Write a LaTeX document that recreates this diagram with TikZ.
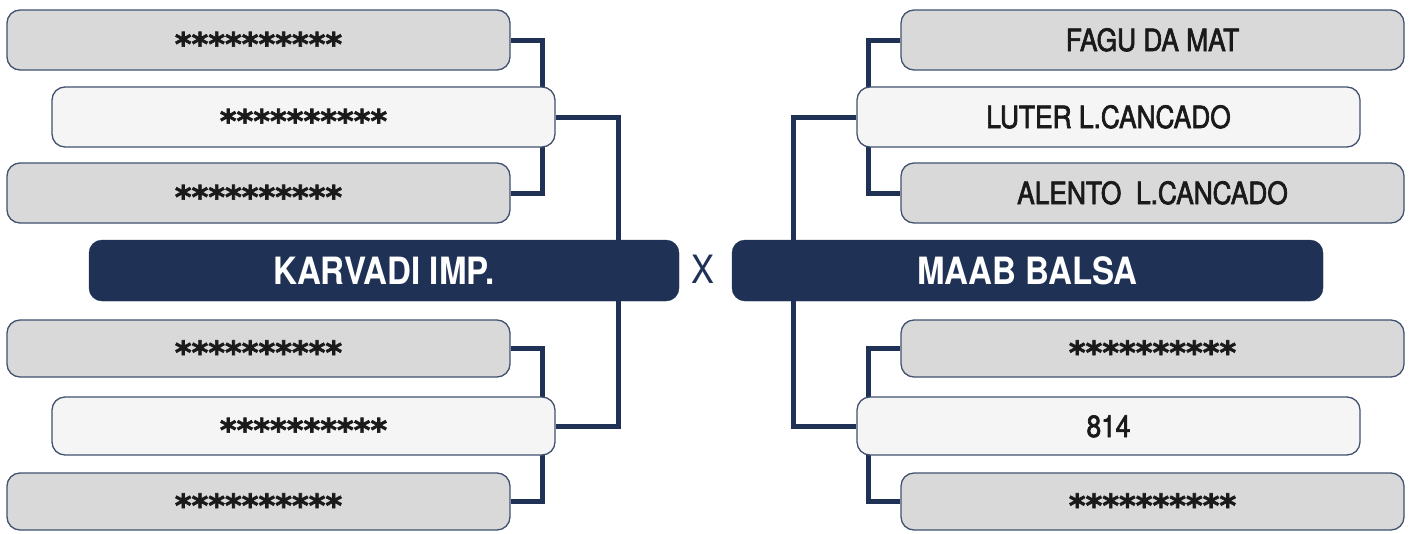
\documentclass[tikz,border=0pt]{standalone}
\usepackage{fontspec}
\setmainfont{TeX Gyre Heros}[FakeStretch=0.88]
\newfontfamily\playerfont{TeX Gyre Heros}[FakeStretch=0.86, FakeBold=2.2]
\newfontfamily\starfont{DejaVu Sans}[FakeBold=2]
\usepackage{xcolor}
\usepackage{tikz}
\usetikzlibrary{backgrounds}

\definecolor{navy}{HTML}{1F3256}
\definecolor{boxgray}{HTML}{D9D9D9}
\definecolor{boxlight}{HTML}{F5F5F5}
\definecolor{txtdark}{HTML}{1A1A1A}
\newcommand{\hiddenname}{\raisebox{-4.5pt}{\starfont\bfseries\fontsize{32}{36}\selectfont **********}}

\begin{document}
\begin{tikzpicture}[x=1pt, y=-1pt,
  playerbox/.style={draw=navy!85, line width=1.3pt, rounded corners=13pt,
                    minimum width=503pt, minimum height=60pt, inner sep=0pt,
                    text height=22pt, text depth=0pt, text=txtdark,
                    font=\playerfont\fontsize{30.6}{36}\selectfont},
  outerbox/.style={playerbox, fill=boxgray},
  innerbox/.style={playerbox, fill=boxlight},
  teambox/.style={draw=navy, fill=navy, rounded corners=13pt,
                  minimum width=590pt, minimum height=61pt, inner sep=0pt,
                  text height=27pt, text depth=0pt, text=white,
                  font=\bfseries\fontsize{37.6}{44}\selectfont},
  link/.style={draw=navy, line width=5pt}
]
\useasboundingbox (0,0) rectangle (1412,533);
% left side
\node[outerbox] (l1) at (258.5,  40) {\hiddenname};
\node[innerbox] (l2) at (303.5, 117) {\hiddenname};
\node[outerbox] (l3) at (258.5, 193) {\hiddenname};
\node[teambox]  (karvadi) at (384, 270.5) {KARVADI IMP.};
\node[outerbox, minimum height=57pt] (l4) at (258.5, 348.5) {\hiddenname};
\node[innerbox, minimum height=58pt] (l5) at (303.5, 426)   {\hiddenname};
\node[outerbox, minimum height=57pt] (l6) at (258.5, 501.5) {\hiddenname};
% right side
\node[outerbox] (r1) at (1152.5,  40) {FAGU DA MAT};
\node[innerbox] (r2) at (1108.5, 117) {LUTER L.CANCADO};
\node[outerbox] (r3) at (1152.5, 193) {ALENTO~~L.CANCADO};
\node[teambox, minimum width=591pt] (maab) at (1027.5, 270.5) {MAAB BALSA};
\node[outerbox, minimum height=57pt] (r4) at (1152.5, 348.5) {\hiddenname};
\node[innerbox, minimum height=58pt] (r5) at (1108.5, 426)   {814};
\node[outerbox, minimum height=57pt] (r6) at (1152.5, 501.5) {\hiddenname};
\node[text=navy, font=\fontsize{39}{44}\selectfont, inner sep=0pt,
      text height=28pt, text depth=0pt] (versus) at (702.5, 269) {X};
\coordinate (ltrunk) at (618, 270.5);
\coordinate (rtrunk) at (793, 270.5);
\begin{pgfonlayer}{background}
\fill[white] (0,0) rectangle (1412,533);
\draw[link] (l1.east) -- ++(32,0) |- (l3.east);
\draw[link] (l4.east) -- ++(32,0) |- (l6.east);
\draw[link] (l2.east) -| (ltrunk) |- (l5.east);
\draw[link] (r1.west) -- ++(-32,0) |- (r3.west);
\draw[link] (r4.west) -- ++(-32,0) |- (r6.west);
\draw[link] (r2.west) -| (rtrunk) |- (r5.west);
\end{pgfonlayer}
\end{tikzpicture}
\end{document}
